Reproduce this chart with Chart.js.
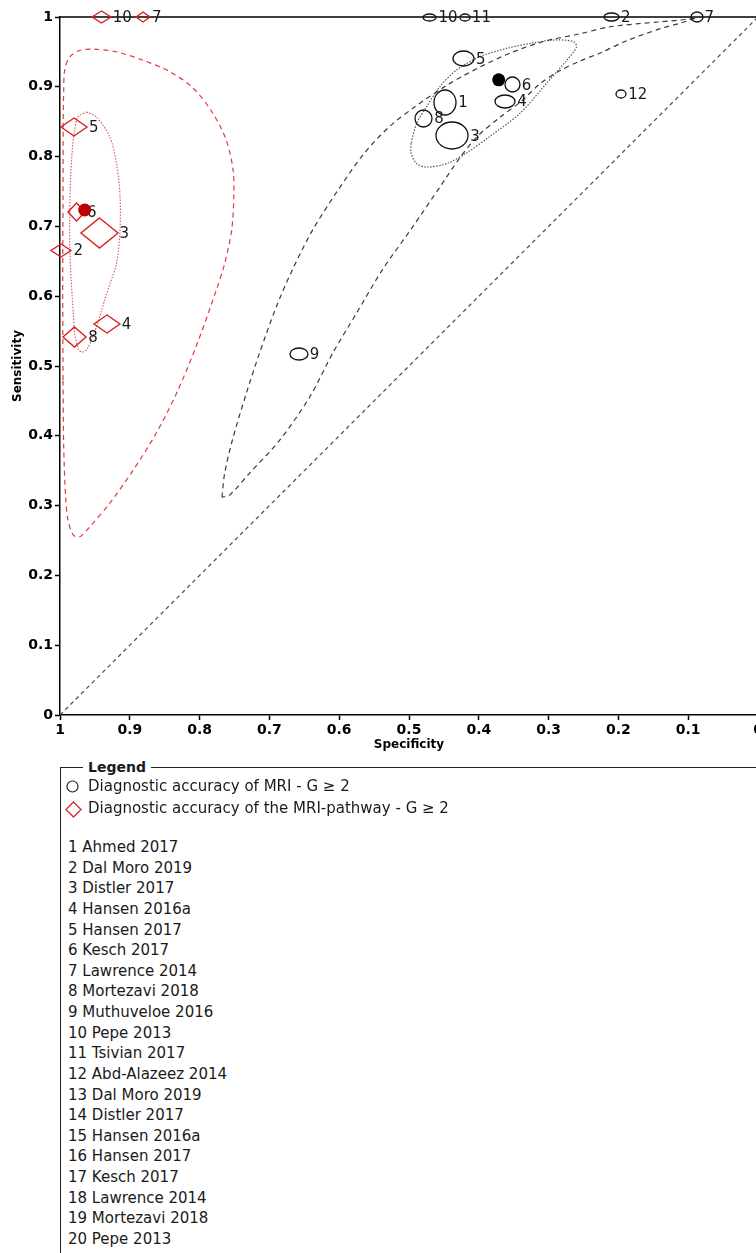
<!DOCTYPE html>
<html>
<head>
<meta charset="utf-8">
<script src="https://cdn.jsdelivr.net/npm/chart.js@4"></script>
<style>
  html, body { margin: 0; padding: 0; background: #fff; }
  body { position: relative; width: 756px; height: 1253px; overflow: hidden; font-family: "DejaVu Sans", sans-serif; color: #1a1a1a; }
  #roc { position: absolute; left: 0; top: 0; }
  #legendBox { position: absolute; left: 60px; top: 767px; width: 760px; height: 520px; border-left: 1.5px solid #222; border-top: 1.5px solid #222; }
  #legendTitle { position: absolute; left: 22px; top: -10px; padding: 0 5px; background: #fff; font: bold 14px "DejaVu Sans", sans-serif; line-height: 18px; }
  .series { position: absolute; left: 4px; height: 22px; font-size: 15px; line-height: 22px; white-space: nowrap; }
  .series svg { position: absolute; left: 0; top: 4px; }
  .series span { position: absolute; left: 23px; top: 0; }
  #studyList { position: absolute; left: 7px; top: 69px; font-size: 15px; line-height: 20.63px; white-space: nowrap; }
</style>
</head>
<body>
<canvas id="roc" width="770" height="760"></canvas>
<div id="legendBox">
  <div id="legendTitle">Legend</div>
  <div class="series" style="top:7px"><svg width="16" height="16"><circle cx="7.5" cy="7.5" r="5.5" fill="none" stroke="#222" stroke-width="1.2"/></svg><span id="s1"></span></div>
  <div class="series" style="top:29px"><svg width="18" height="18"><path d="M8.5 1 L16 8.5 L8.5 16 L1 8.5 Z" fill="none" stroke="#d42a2a" stroke-width="1.3"/></svg><span id="s2"></span></div>
  <div id="studyList"></div>
</div>
<script>
// axis tick labels (both axes run 0..1 in steps of 0.1)
const axisTicks = ['0', '0.1', '0.2', '0.3', '0.4', '0.5', '0.6', '0.7', '0.8', '0.9', '1'];

const seriesNames = ['Diagnostic accuracy of MRI - G \u2265 2', 'Diagnostic accuracy of the MRI-pathway - G \u2265 2'];

const studyNames = ['Ahmed 2017', 'Dal Moro 2019', 'Distler 2017', 'Hansen 2016a', 'Hansen 2017', 'Kesch 2017',
  'Lawrence 2014', 'Mortezavi 2018', 'Muthuveloe 2016', 'Pepe 2013', 'Tsivian 2017', 'Abd-Alazeez 2014',
  'Dal Moro 2019', 'Distler 2017', 'Hansen 2016a', 'Hansen 2017', 'Kesch 2017', 'Lawrence 2014',
  'Mortezavi 2018', 'Pepe 2013'];

// MRI studies (black ellipses)
const mriStudies = ['1', '2', '3', '4', '5', '6', '7', '8', '9', '10', '11', '12'];
const mriSpec = [0.448, 0.210, 0.438, 0.362, 0.422, 0.352, 0.088, 0.479, 0.658, 0.470, 0.420, 0.196];
const mriSens = [0.878, 1.000, 0.830, 0.879, 0.940, 0.903, 1.000, 0.855, 0.517, 1.000, 1.000, 0.889];
const mriWeightNeg = [22, 15, 32, 20, 21, 15, 12, 17, 18, 13, 10, 10];
const mriWeightPos = [25, 8, 27, 13, 15, 15, 10, 17, 12, 7, 7, 8];
const mriSummary = [0.3715, 0.910];

// MRI-pathway studies (red diamonds)
const pathStudies = ['2', '3', '4', '5', '6', '7', '8', '10'];
const pathSpec = [0.998, 0.944, 0.933, 0.980, 0.9765, 0.881, 0.979, 0.941];
const pathSens = [0.666, 0.690, 0.560, 0.842, 0.720, 1.000, 0.542, 1.000];
const pathWeightNeg = [20, 37, 26, 26, 17, 14, 23, 19];
const pathWeightPos = [13, 30, 18, 18, 18, 10, 20, 12];
const pathSummary = [0.9646, 0.7235];

// MRI 95% prediction region
const mriPredSpec = [0.768, 0.764, 0.753, 0.733, 0.714, 0.690, 0.667, 0.638, 0.599, 0.564, 0.528, 0.492, 0.446,
  0.399, 0.351, 0.303, 0.255, 0.212, 0.141, 0.098, 0.088, 0.112, 0.141, 0.188, 0.227, 0.255, 0.284, 0.313, 0.337,
  0.370, 0.402, 0.428, 0.456, 0.495, 0.538, 0.575, 0.609, 0.642, 0.685, 0.728, 0.757, 0.768];
const mriPredSens = [0.312, 0.347, 0.394, 0.461, 0.519, 0.585, 0.638, 0.695, 0.756, 0.805, 0.843, 0.871, 0.902,
  0.928, 0.950, 0.966, 0.976, 0.986, 0.993, 0.997, 0.999, 0.991, 0.983, 0.966, 0.948, 0.937, 0.923, 0.904, 0.881,
  0.856, 0.829, 0.797, 0.756, 0.699, 0.638, 0.576, 0.519, 0.456, 0.394, 0.347, 0.315, 0.312];

// MRI 95% confidence region
const mriConfSpec = [0.497, 0.497, 0.489, 0.475, 0.446, 0.418, 0.384, 0.341, 0.303, 0.274, 0.260, 0.265, 0.294,
  0.327, 0.360, 0.399, 0.432, 0.456, 0.475, 0.489, 0.497];
const mriConfSens = [0.819, 0.805, 0.790, 0.785, 0.790, 0.805, 0.829, 0.862, 0.905, 0.938, 0.957, 0.965, 0.967,
  0.962, 0.955, 0.943, 0.924, 0.900, 0.871, 0.848, 0.819];

// MRI-pathway 95% prediction region
const pathPredSpec = [0.9957, 0.9961, 0.9957, 0.9954, 0.9947, 0.9933, 0.986, 0.972, 0.953, 0.919, 0.881, 0.843,
  0.809, 0.781, 0.762, 0.752, 0.751, 0.754, 0.764, 0.776, 0.805, 0.833, 0.862, 0.895, 0.929, 0.957, 0.972, 0.981,
  0.9885, 0.992, 0.9947, 0.9957];
const pathPredSens = [0.480, 0.623, 0.738, 0.852, 0.895, 0.924, 0.943, 0.952, 0.954, 0.950, 0.938, 0.922, 0.898,
  0.862, 0.824, 0.781, 0.743, 0.695, 0.647, 0.609, 0.528, 0.461, 0.404, 0.351, 0.303, 0.270, 0.255, 0.258, 0.279,
  0.313, 0.384, 0.480];

// MRI-pathway 95% confidence region
const pathConfSpec = [0.962, 0.948, 0.929, 0.919, 0.914, 0.914, 0.919, 0.929, 0.936, 0.943, 0.953, 0.962, 0.969,
  0.974, 0.979, 0.981, 0.984, 0.986, 0.986, 0.985, 0.982, 0.979, 0.974, 0.962];
const pathConfSens = [0.864, 0.857, 0.829, 0.790, 0.743, 0.695, 0.647, 0.616, 0.595, 0.571, 0.542, 0.523, 0.520,
  0.525, 0.547, 0.576, 0.623, 0.671, 0.719, 0.766, 0.814, 0.838, 0.857, 0.864];

const chanceSpec = [1, 0];
const chanceSens = [0, 1];

const toPoints = (xs, ys) => xs.map((x, i) => ({ x, y: ys[i] }));
const tickLabel = (value) => axisTicks[Math.round(value * 10)];

const BLACK = '#111';
const RED = '#d62020';

// marker images: width follows the non-diseased weight, height the diseased weight
function ellipseMark(w, h) {
  const c = document.createElement('canvas');
  c.width = w + 4;
  c.height = h + 4;
  const g = c.getContext('2d');
  g.strokeStyle = BLACK;
  g.lineWidth = 1.3;
  g.beginPath();
  g.ellipse(c.width / 2, c.height / 2, w / 2, h / 2, 0, 0, Math.PI * 2);
  g.stroke();
  return c;
}

function diamondMark(w, h) {
  const c = document.createElement('canvas');
  c.width = w + 4;
  c.height = h + 4;
  const g = c.getContext('2d');
  const cx = c.width / 2, cy = c.height / 2;
  g.strokeStyle = RED;
  g.lineWidth = 1.4;
  g.beginPath();
  g.moveTo(cx, cy - h / 2);
  g.lineTo(cx + w / 2, cy);
  g.lineTo(cx, cy + h / 2);
  g.lineTo(cx - w / 2, cy);
  g.closePath();
  g.stroke();
  return c;
}

// study numbers next to each marker
const markerLabels = {
  id: 'markerLabels',
  beforeDatasetDraw(chart, args) {
    if (chart.data.datasets[args.index].studyLabels) chart.ctx.imageSmoothingEnabled = false;
  },
  afterDatasetDraw(chart, args) {
    const ds = chart.data.datasets[args.index];
    if (!ds.studyLabels) return;
    const { ctx } = chart;
    ctx.imageSmoothingEnabled = true;
    ctx.save();
    ctx.font = '15px "DejaVu Sans", sans-serif';
    ctx.fillStyle = '#1a1a1a';
    ctx.textBaseline = 'middle';
    args.meta.data.forEach((pt, i) => {
      ctx.fillText(ds.studyLabels[i], pt.x + ds.markWidth[i] / 2 + 2, pt.y + 1);
    });
    ctx.restore();
  }
};

// top edge of the plot frame
const frameTop = {
  id: 'frameTop',
  beforeDatasetsDraw(chart) {
    const { ctx, chartArea } = chart;
    ctx.save();
    ctx.strokeStyle = '#000';
    ctx.lineWidth = 1.5;
    ctx.beginPath();
    ctx.moveTo(chartArea.left, chartArea.top);
    ctx.lineTo(chartArea.right, chartArea.top);
    ctx.stroke();
    ctx.restore();
  }
};

Chart.defaults.font.family = '"DejaVu Sans", sans-serif';
Chart.defaults.color = '#000';

const curve = (xs, ys, color, dash, order) => ({
  data: toPoints(xs, ys),
  showLine: true,
  borderColor: color,
  borderWidth: 1.2,
  borderDash: dash,
  pointRadius: 0,
  tension: 0.3,
  fill: false,
  clip: false,
  order
});

new Chart(document.getElementById('roc'), {
  type: 'scatter',
  data: {
    datasets: [
      curve(chanceSpec, chanceSens, '#4a4a4a', [4, 3.5], 6),
      curve(mriPredSpec, mriPredSens, '#3a3a3a', [5, 4], 5),
      curve(mriConfSpec, mriConfSens, '#555', [1.5, 1.5], 5),
      curve(pathPredSpec, pathPredSens, '#e03b3b', [5, 4], 5),
      curve(pathConfSpec, pathConfSens, '#e06060', [1.5, 1.5], 5),
      {
        data: toPoints(mriSpec, mriSens),
        pointStyle: mriSpec.map((_, i) => ellipseMark(mriWeightNeg[i], mriWeightPos[i])),
        pointRadius: 8,
        clip: false,
        order: 2,
        studyLabels: mriStudies,
        markWidth: mriWeightNeg
      },
      {
        data: toPoints(pathSpec, pathSens),
        pointStyle: pathSpec.map((_, i) => diamondMark(pathWeightNeg[i], pathWeightPos[i])),
        pointRadius: 8,
        clip: false,
        order: 2,
        studyLabels: pathStudies,
        markWidth: pathWeightNeg
      },
      {
        data: [{ x: mriSummary[0], y: mriSummary[1] }],
        pointRadius: 6.5,
        pointBackgroundColor: '#000',
        pointBorderWidth: 0,
        clip: false,
        order: 0
      },
      {
        data: [{ x: pathSummary[0], y: pathSummary[1] }],
        pointRadius: 6.5,
        pointBackgroundColor: '#c00000',
        pointBorderWidth: 0,
        clip: false,
        order: 0
      }
    ]
  },
  options: {
    responsive: false,
    animation: false,
    events: [],
    layout: { padding: { top: 17, right: 12, bottom: 0, left: 0 } },
    plugins: {
      legend: { display: false },
      tooltip: { enabled: false }
    },
    scales: {
      x: {
        type: 'linear',
        min: 0,
        max: 1,
        reverse: true,
        ticks: {
          stepSize: 0.1,
          callback: tickLabel,
          autoSkip: false,
          maxRotation: 0,
          padding: 2,
          color: '#000',
          font: { size: 14, weight: 'bold' }
        },
        grid: { drawOnChartArea: false, tickLength: 5, tickColor: '#000', tickWidth: 1.5 },
        border: { color: '#000', width: 1.5 },
        title: {
          display: true,
          text: 'Specificity',
          color: '#000',
          font: { size: 12, weight: 'bold' },
          padding: { top: 0, bottom: 8 }
        },
        afterFit: (scale) => {
          scale.height = 45;
          scale.paddingLeft = 0;
          scale.paddingRight = 0;
        }
      },
      y: {
        type: 'linear',
        min: 0,
        max: 1,
        ticks: {
          stepSize: 0.1,
          callback: tickLabel,
          padding: 2,
          color: '#000',
          font: { size: 14, weight: 'bold' }
        },
        grid: { drawOnChartArea: false, tickLength: 5, tickColor: '#000', tickWidth: 1.5 },
        border: { color: '#000', width: 1.5 },
        title: {
          display: true,
          text: 'Sensitivity',
          color: '#000',
          font: { size: 12, weight: 'bold' },
          padding: { top: 11, bottom: 0 }
        },
        afterFit: (scale) => {
          scale.width = 60;
          scale.paddingTop = 0;
          scale.paddingBottom = 0;
        }
      }
    }
  },
  plugins: [frameTop, markerLabels]
});

// legend text
document.getElementById('s1').textContent = seriesNames[0];
document.getElementById('s2').textContent = seriesNames[1];
document.getElementById('studyList').innerHTML = studyNames
  .map((name, i) => `<div>${i + 1} ${name}</div>`)
  .join('');
</script>
</body>
</html>
